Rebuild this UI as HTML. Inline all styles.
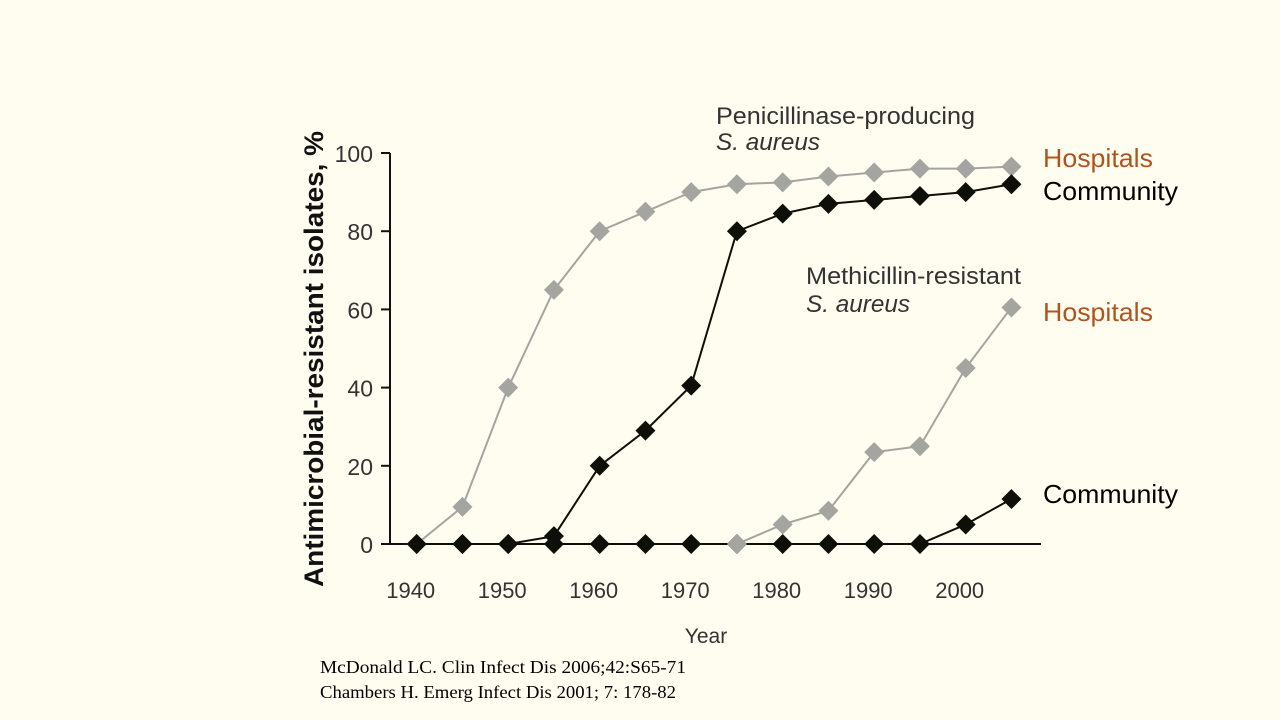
<!DOCTYPE html>
<html><head><meta charset="utf-8"><style>
html,body{margin:0;padding:0;background:#fffdf0;}
svg{display:block;}
text{font-family:"Liberation Sans",sans-serif;}
</style></head><body>
<svg width="1280" height="720" viewBox="0 0 1280 720">
<g id="axes"></g><g id="series"></g>
<text x="716" y="124" font-size="24" fill="#333" textLength="259" lengthAdjust="spacingAndGlyphs">Penicillinase-producing</text>
<text x="716" y="150" font-size="24" fill="#333" font-style="italic" textLength="104" lengthAdjust="spacingAndGlyphs">S. aureus</text>
<text x="806" y="284" font-size="24" fill="#333" textLength="215" lengthAdjust="spacingAndGlyphs">Methicillin-resistant</text>
<text x="806" y="312" font-size="24" fill="#333" font-style="italic" textLength="104" lengthAdjust="spacingAndGlyphs">S. aureus</text>
<text x="1043" y="167" font-size="26" fill="#b0541e" textLength="110" lengthAdjust="spacingAndGlyphs">Hospitals</text>
<text x="1043" y="200" font-size="26" fill="#000" textLength="135" lengthAdjust="spacingAndGlyphs">Community</text>
<text x="1043" y="321" font-size="26" fill="#b0541e" textLength="110" lengthAdjust="spacingAndGlyphs">Hospitals</text>
<text x="1043" y="503" font-size="26" fill="#000" textLength="135" lengthAdjust="spacingAndGlyphs">Community</text>
<text x="706" y="643" font-size="21" fill="#333" text-anchor="middle">Year</text>
<text transform="translate(323,359) rotate(-90)" font-size="27" font-weight="bold" fill="#111" text-anchor="middle" textLength="456" lengthAdjust="spacingAndGlyphs">Antimicrobial-resistant isolates, %</text>
<text x="320" y="673" font-size="18" fill="#000" textLength="366" lengthAdjust="spacingAndGlyphs" style="font-family:'Liberation Serif',serif">McDonald LC. Clin Infect Dis 2006;42:S65-71</text>
<text x="320" y="698" font-size="18" fill="#000" textLength="356" lengthAdjust="spacingAndGlyphs" style="font-family:'Liberation Serif',serif">Chambers H. Emerg Infect Dis 2001; 7: 178-82</text>
</svg>
<script>
const years=[1940,1945,1950,1955,1960,1965,1970,1975,1980,1985,1990,1995,2000,2005];
const penHospital=[0,9.5,40,65,80,85,90,92,92.5,94,95,96,96,96.5];
const penCommunity=[0,0,0,2,20,29,40.5,80,84.5,87,88,89,90,92];
const mrsaHospYears=[1975,1980,1985,1990,1995,2000,2005];
const mrsaHospital=[0,5,8.5,23.5,25,45,60.5];
const mrsaCommunity=[0,0,0,0,0,0,0,0,0,0,0,0,5,11.5];
const yTicks=[0,20,40,60,80,100];
const xTicks=[1940,1950,1960,1970,1980,1990,2000];
const NS='http://www.w3.org/2000/svg';
const X=y=>416.7+(y-1940)*9.15;
const Y=v=>544-v*3.91;
function mk(tag,attrs,parent){const e=document.createElementNS(NS,tag);for(const k in attrs)e.setAttribute(k,attrs[k]);parent.appendChild(e);return e;}
const ax=document.getElementById('axes'),sr=document.getElementById('series');
let l=mk('line',{x1:390,y1:Y(100),x2:390,y2:Y(0),stroke:'#111','stroke-width':2},ax);


l=mk('line',{x1:390,y1:Y(0),x2:1041,y2:Y(0),stroke:'#111','stroke-width':2},ax);


yTicks.forEach(v=>{
 const t=mk('line',{x1:381,y1:Y(v),x2:390,y2:Y(v),stroke:'#111','stroke-width':2},ax);
 
 
 const tx=mk('text',{x:373,y:Y(v)+9,'font-size':23,fill:'#333','text-anchor':'end'},ax);tx.textContent=v;
 
 
});
xTicks.forEach(v=>{
 const tx=mk('text',{x:X(v)-6,y:598,'font-size':22,fill:'#333','text-anchor':'middle'},ax);tx.textContent=v;
 
 
});
function series(xs,vs,color,name){
 const g=mk('g',{},sr);
 
 
 mk('polyline',{points:xs.map((y,i)=>X(y)+','+Y(vs[i])).join(' '),fill:'none',stroke:color,'stroke-width':2},g);
 xs.forEach((y,i)=>{const cx=X(y),cy=Y(vs[i]),r=10;
  const p=mk('polygon',{points:`${cx},${cy-r} ${cx+r},${cy} ${cx},${cy+r} ${cx-r},${cy}`,fill:color},g);
  
  
 });
}
series(years,mrsaCommunity,'#0f0f0a','mrsa-community-series');
series(years,penHospital,'#a4a4a0','pen-hospital-series');
series(years,penCommunity,'#0f0f0a','pen-community-series');
series(mrsaHospYears,mrsaHospital,'#a4a4a0','mrsa-hospital-series');
</script>
</body></html>
